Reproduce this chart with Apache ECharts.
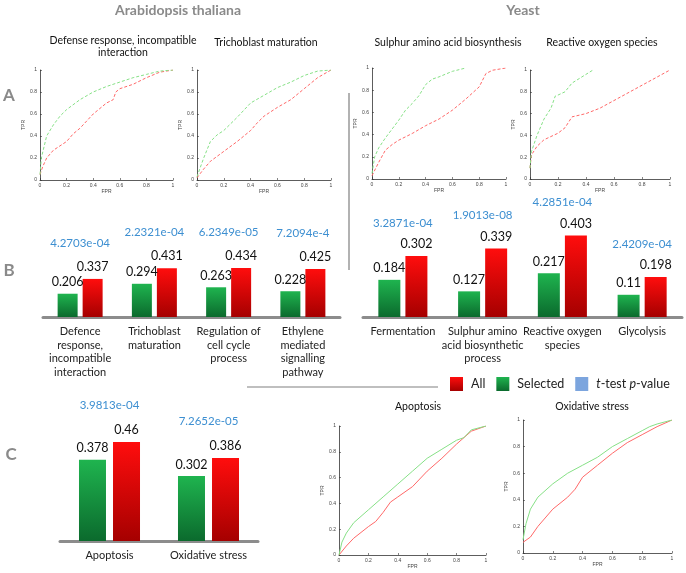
<!DOCTYPE html>
<html><head><meta charset="utf-8">
<script src="https://cdn.jsdelivr.net/npm/echarts@6/dist/echarts.min.js"></script>
<style>html,body{margin:0;padding:0;background:#fff}#c{width:686px;height:573px}</style>
</head><body><div id="c"></div>
<script>
// ---------- DATA ----------
const rocTitles = ['Defense response, incompatible\ninteraction', 'Trichoblast maturation', 'Sulphur amino acid biosynthesis', 'Reactive oxygen species', 'Apoptosis', 'Oxidative stress'];
const rocTicks = [0, 0.2, 0.4, 0.6, 0.8, 1];

const rocDefenseSel = [[0,0.05],[0.01,0.2],[0.05,0.4],[0.1,0.5],[0.15,0.58],[0.2,0.64],[0.3,0.73],[0.4,0.8],[0.5,0.85],[0.6,0.89],[0.7,0.93],[0.8,0.96],[0.9,0.99],[1,1]];
const rocDefenseAll = [[0,0.05],[0.02,0.12],[0.05,0.2],[0.1,0.27],[0.2,0.35],[0.25,0.42],[0.3,0.47],[0.4,0.6],[0.5,0.7],[0.55,0.73],[0.57,0.8],[0.6,0.83],[0.7,0.87],[0.8,0.93],[0.9,0.98],[1,1]];
const rocTrichoSel = [[0,0.03],[0.05,0.2],[0.1,0.35],[0.15,0.41],[0.2,0.45],[0.3,0.57],[0.4,0.7],[0.5,0.77],[0.6,0.84],[0.7,0.89],[0.8,0.95],[0.9,0.99],[1,1]];
const rocTrichoAll = [[0,0.02],[0.05,0.1],[0.1,0.17],[0.2,0.26],[0.3,0.35],[0.4,0.45],[0.45,0.52],[0.5,0.58],[0.6,0.66],[0.7,0.73],[0.8,0.83],[0.9,0.93],[1,1]];
const rocSulphurSel = [[0,0.05],[0.02,0.2],[0.05,0.28],[0.1,0.37],[0.15,0.45],[0.2,0.53],[0.25,0.62],[0.3,0.68],[0.35,0.75],[0.4,0.85],[0.45,0.9],[0.5,0.92],[0.6,0.97],[0.7,1]];
const rocSulphurAll = [[0,0.03],[0.05,0.15],[0.1,0.26],[0.15,0.31],[0.2,0.35],[0.3,0.41],[0.4,0.48],[0.5,0.54],[0.6,0.62],[0.7,0.72],[0.8,0.83],[0.85,0.95],[0.9,0.98],[1,1]];
const rocROSSel = [[0,0.1],[0.01,0.25],[0.05,0.4],[0.1,0.55],[0.15,0.65],[0.18,0.76],[0.2,0.77],[0.25,0.8],[0.3,0.88],[0.35,0.92],[0.45,1]];
const rocROSAll = [[0,0.1],[0.01,0.22],[0.05,0.3],[0.1,0.36],[0.2,0.42],[0.25,0.47],[0.3,0.57],[0.4,0.6],[0.5,0.65],[0.6,0.72],[0.7,0.79],[0.8,0.86],[0.9,0.93],[1,1]];
const rocApoSel = [[0,0],[0.02,0.1],[0.05,0.17],[0.1,0.25],[0.2,0.35],[0.3,0.45],[0.4,0.55],[0.5,0.65],[0.6,0.75],[0.7,0.82],[0.8,0.89],[0.85,0.91],[0.9,0.97],[1,1]];
const rocApoAll = [[0,0],[0.05,0.07],[0.1,0.13],[0.2,0.22],[0.25,0.26],[0.3,0.33],[0.35,0.41],[0.4,0.45],[0.5,0.53],[0.6,0.65],[0.7,0.75],[0.8,0.86],[0.9,0.96],[1,1]];
const rocOxSel = [[0,0.1],[0.02,0.22],[0.05,0.33],[0.1,0.42],[0.2,0.52],[0.3,0.6],[0.4,0.66],[0.5,0.72],[0.6,0.8],[0.7,0.86],[0.8,0.92],[0.85,0.95],[0.9,0.97],[1,1]];
const rocOxAll = [[0,0.08],[0.05,0.12],[0.1,0.2],[0.2,0.33],[0.3,0.42],[0.35,0.48],[0.4,0.57],[0.5,0.66],[0.6,0.75],[0.7,0.83],[0.8,0.89],[0.9,0.95],[1,1]];

const athCats = ['Defence\nresponse,\nincompatible\ninteraction', 'Trichoblast\nmaturation', 'Regulation of\ncell cycle\nprocess', 'Ethylene\nmediated\nsignalling\npathway'];
const athSelected = [0.206, 0.294, 0.263, 0.228];
const athAll = [0.337, 0.431, 0.434, 0.425];
const athPvals = ['4.2703e-04', '2.2321e-04', '6.2349e-05', '7.2094e-4'];

const yeastCats = ['Fermentation', 'Sulphur amino\nacid biosynthetic\nprocess', 'Reactive oxygen\nspecies', 'Glycolysis'];
const yeastSelected = [0.184, 0.127, 0.217, 0.11];
const yeastAll = [0.302, 0.339, 0.403, 0.198];
const yeastPvals = ['3.2871e-04', '1.9013e-08', '4.2851e-04', '2.4209e-04'];

const cCats = ['Apoptosis', 'Oxidative stress'];
const cSelected = [0.378, 0.302];
const cAll = [0.46, 0.386];
const cPvals = ['3.9813e-04', '7.2652e-05'];

// ---------- LAYOUT / STYLE ----------
const FONT = 'Lato, "Open Sans", sans-serif';
const rocGrids = [
  {left:40, top:70, width:133, height:110},
  {left:197, top:70, width:134, height:110},
  {left:372, top:68, width:134, height:111},
  {left:530, top:70, width:140, height:109},
  {left:339, top:426, width:147, height:129},
  {left:523, top:420, width:149, height:133}
];
const rocSeriesData = [
  [rocDefenseSel, rocDefenseAll],
  [rocTrichoSel, rocTrichoAll],
  [rocSulphurSel, rocSulphurAll],
  [rocROSSel, rocROSAll],
  [rocApoSel, rocApoAll],
  [rocOxSel, rocOxAll]
];
const barGrids = [
  {left:43, top:204, width:297, height:113, max:1, barWidth:20, barGap:'25%', pLine:34, cats:athCats, sel:athSelected, all:athAll, p:athPvals},
  {left:363, top:216, width:319, height:101, max:0.5, barWidth:22, barGap:'23%', pLine:28, cats:yeastCats, sel:yeastSelected, all:yeastAll, p:yeastPvals},
  {left:60, top:433.5, width:198, height:107.5, max:0.5, barWidth:27, barGap:'26%', pLine:36, cats:cCats, sel:cSelected, all:cAll, p:cPvals}
];

const greenGrad = new echarts.graphic.LinearGradient(0,0,0,1,[{offset:0,color:'#1fb44f'},{offset:1,color:'#0b6a2d'}]);
const redGrad = new echarts.graphic.LinearGradient(0,0,0,1,[{offset:0,color:'#ff0d0d'},{offset:1,color:'#a50000'}]);

const grid = [], xAxis = [], yAxis = [], series = [];

rocGrids.forEach((g, i) => {
  grid.push({left:g.left, top:g.top, width:g.width, height:g.height, containLabel:false});
  const axisCommon = {
    type:'value', min:0, max:1, interval:0.2, gridIndex:i,
    axisLine:{show:true, lineStyle:{color:'#333', width:0.8}},
    axisTick:{show:true, inside:true, length:2, lineStyle:{color:'#333', width:0.6}},
    axisLabel:{fontSize:5, color:'#444', margin:3, fontFamily:'Arial, sans-serif',
      formatter: v => String(rocTicks.find(t => Math.abs(t - v) < 1e-6) ?? v)},
    splitLine:{show:false},
    nameTextStyle:{fontSize:5, color:'#444', fontFamily:'Arial, sans-serif'}
  };
  xAxis.push(Object.assign({}, axisCommon, {name:'FPR', nameLocation:'middle', nameGap:8}));
  yAxis.push(Object.assign({}, axisCommon, {name:'TPR', nameLocation:'middle', nameGap:10}));
  const dashed = i < 4;
  const [sel, all] = rocSeriesData[i];
  series.push({
    type:'line', name:'roc-sel-' + i, xAxisIndex:i, yAxisIndex:i, data:sel, symbol:'none', silent:true,
    lineStyle:{color:'#86e086', width:1, type: dashed ? [3,2] : 'solid'}, z:3
  });
  series.push({
    type:'line', name:'roc-all-' + i, xAxisIndex:i, yAxisIndex:i, data:all, symbol:'none', silent:true,
    lineStyle:{color:'#ff6868', width:1, type: dashed ? [3,2] : 'solid'}, z:2
  });
});

barGrids.forEach((b, k) => {
  const gi = rocGrids.length + k;
  grid.push({left:b.left, top:b.top, width:b.width, height:b.height, containLabel:false});
  xAxis.push({
    type:'category', gridIndex:gi, data:b.cats,
    axisLine:{show:true, lineStyle:{color:'#8c8c8c', width:3}},
    axisTick:{show:false},
    axisLabel:{interval:0, fontSize:11, lineHeight:13.5, margin:8, color:'#222', fontFamily:FONT}
  });
  yAxis.push({type:'value', gridIndex:gi, min:0, max:b.max, show:false, splitLine:{show:false}});
  series.push({
    type:'bar', name:'Selected', xAxisIndex:gi, yAxisIndex:gi, data:b.sel,
    barWidth:b.barWidth, barGap:b.barGap,
    itemStyle:{color:greenGrad},
    label:{show:true, position:'top', distance:5, fontSize:12.5, color:'#111', fontFamily:FONT}
  });
  series.push({
    type:'bar', name:'All', xAxisIndex:gi, yAxisIndex:gi, data:b.all,
    barWidth:b.barWidth, barGap:b.barGap,
    itemStyle:{color:redGrad},
    label:{show:true, position:'top', distance:5, fontFamily:FONT,
      formatter: p => '{p|' + b.p[p.dataIndex] + '}\n{v|' + p.value + '}',
      rich:{
        p:{color:'#3d8fd1', fontSize:11.5, fontFamily:FONT, lineHeight:b.pLine,
           padding:[0, b.barWidth * (1 + parseFloat(b.barGap)/100), 0, 0]},
        v:{color:'#111', fontSize:12.5, fontFamily:FONT, lineHeight:14}
      }}
  });
});

// dummy series for the legend entry of the p-value colour
series.push({type:'scatter', name:'t-test p-value', xAxisIndex:0, yAxisIndex:0, data:[], itemStyle:{color:'#5b8fd6'}});

const gray = '#8a8a8a';
const graphic = [
  {type:'text', x:178, y:10, style:{text:'Arabidopsis thaliana', font:'bold 14px ' + FONT, fill:gray, align:'center', verticalAlign:'middle'}},
  {type:'text', x:523, y:10, style:{text:'Yeast', font:'bold 14px ' + FONT, fill:gray, align:'center', verticalAlign:'middle'}},
  {type:'text', x:9, y:96, style:{text:'A', font:'bold 17px ' + FONT, fill:gray, align:'center', verticalAlign:'middle'}},
  {type:'text', x:9, y:271, style:{text:'B', font:'bold 17px ' + FONT, fill:gray, align:'center', verticalAlign:'middle'}},
  {type:'text', x:11, y:455, style:{text:'C', font:'bold 17px ' + FONT, fill:gray, align:'center', verticalAlign:'middle'}},
  {type:'line', shape:{x1:349, y1:93, x2:349, y2:270}, style:{stroke:'#999', lineWidth:1.5}},
  {type:'line', shape:{x1:247, y1:387, x2:438, y2:387}, style:{stroke:'#aaa', lineWidth:1.5}}
];
const titlePos = [[123,47],[266,43],[448,43],[602,43],[418,407],[592,407]];
rocTitles.forEach((t, i) => {
  graphic.push({type:'text', x:titlePos[i][0], y:titlePos[i][1],
    style:{text:t, font:'10.5px ' + FONT, fill:'#111', align:'center', verticalAlign:'middle', lineHeight:12}});
});

const option = {
  animation:false,
  backgroundColor:'#fff',
  grid, xAxis, yAxis, series, graphic,
  legend:{
    data:['All','Selected','t-test p-value'],
    left:450, top:377, width:236, padding:0, icon:'rect', itemWidth:13, itemHeight:14, itemGap:11,
    selectedMode:false,
    textStyle:{fontSize:12.5, color:'#222', fontFamily:FONT, padding:[0,0,0,3],
      rich:{i:{fontStyle:'italic', fontSize:12.5, color:'#222', fontFamily:FONT}}},
    formatter: n => n === 't-test p-value' ? '{i|t}-test {i|p}-value' : n
  }
};
const chart = echarts.init(document.getElementById('c'));
chart.setOption(option);
</script>
</body></html>
